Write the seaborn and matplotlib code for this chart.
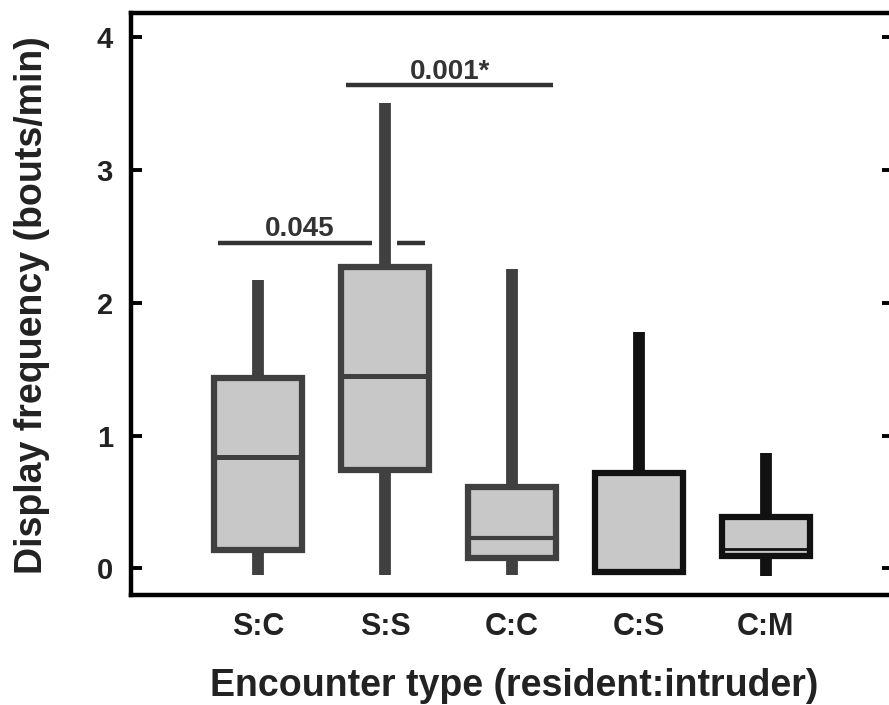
import numpy as np
import pandas as pd
import matplotlib
matplotlib.use("Agg")
import matplotlib.pyplot as plt
import seaborn as sns

# Encounter types and their five-number summaries (display bouts per minute)
categories = ["S:C", "S:S", "C:C", "C:S", "C:M"]
whisker_low = [-0.05, -0.05, -0.05, -0.05, -0.06]
quartile_1 = [0.14, 0.74, 0.08, -0.03, 0.09]
medians = [0.84, 1.45, 0.23, -0.03, 0.15]
quartile_3 = [1.43, 2.27, 0.61, 0.72, 0.39]
whisker_high = [2.17, 3.50, 2.25, 1.78, 0.87]

# Pairwise comparisons: (first group, second group, p-value label)
comparisons = [("S:C", "S:S", "0.045"), ("S:S", "C:C", "0.001*")]

# Five values per group reproduce the summary exactly (whiskers span min..max)
rows = []
for cat, lo, q1, md, q3, hi in zip(categories, whisker_low, quartile_1,
                                   medians, quartile_3, whisker_high):
    for v in (lo, q1, md, q3, hi):
        rows.append({"type": cat, "rate": v})
df = pd.DataFrame(rows)

sns.set_theme(style="white")
plt.rcParams["font.family"] = ["Liberation Sans", "DejaVu Sans"]
plt.rcParams["font.weight"] = "bold"

fig = plt.figure(figsize=(8.89, 7.05), dpi=100)
ax = fig.add_axes([0.1474, 0.156, 0.857, 0.8256])

sns.boxplot(data=df, x="type", y="rate", order=categories, whis=np.inf,
            width=0.69, color="#c8c8c8", linewidth=4, showcaps=False,
            ax=ax)

edge_colors = ["#404040", "#404040", "#404040", "#111111", "#111111"]
median_widths = [3.6, 3.6, 3, 3, 2]
cont = ax.containers[0]
for i, bx in enumerate(cont.boxes):
    bx.set_edgecolor(edge_colors[i])
    bx.set_facecolor("#c8c8c8")
    bx.set_linewidth(4.5)
    bx.set_zorder(3)
for i, md in enumerate(cont.medians):
    md.set_color(edge_colors[i])
    md.set_linewidth(median_widths[i])
    md.set_zorder(4)
for j, wk in enumerate(cont.whiskers):
    wk.set_color(edge_colors[j // 2])
    wk.set_linewidth(8.5)
    wk.set_solid_capstyle("butt")
    wk.set_zorder(2)

ax.set_xlim(-1, 5)
ax.set_ylim(-0.2, 4.18)
ax.set_yticks([0, 1, 2, 3, 4])

# Significance bars
bar_col = "#333333"
ax.plot([-0.315, 0.898], [2.45, 2.45], color=bar_col, lw=3.2,
        solid_capstyle="butt", zorder=5)
ax.plot([1.094, 1.315], [2.45, 2.45], color=bar_col, lw=3.2,
        solid_capstyle="butt", zorder=5)
ax.text(0.33, 2.50, comparisons[0][2], ha="center", va="baseline",
        fontsize=20, fontweight="bold", color="#333333")
ax.plot([0.69, 2.32], [3.64, 3.64], color=bar_col, lw=3.2,
        solid_capstyle="butt", zorder=5)
ax.text(1.51, 3.68, comparisons[1][2], ha="center", va="baseline",
        fontsize=20, fontweight="bold", color="#333333")

for side in ["left", "bottom", "top", "right"]:
    ax.spines[side].set_visible(True)
    ax.spines[side].set_color("black")
    ax.spines[side].set_linewidth(3.2)

ax.tick_params(axis="y", which="both", direction="in", length=8, width=2.8,
               color="black", left=True, right=True, pad=13,
               labelsize=21, labelcolor="#222222")
ax.tick_params(axis="x", length=0, pad=12, labelsize=22,
               labelcolor="#222222")
for lab in ax.get_xticklabels() + ax.get_yticklabels():
    lab.set_fontweight("bold")

ax.set_xlabel("Encounter type (resident:intruder)", fontsize=27,
              fontweight="bold", color="#222222")
ax.set_ylabel("Display frequency (bouts/min)", fontsize=27,
              fontweight="bold", color="#222222")
ax.xaxis.set_label_coords(0.503, -0.126)
ax.yaxis.set_label_coords(-0.106, 0.498)

fig.savefig("out.png", dpi=100)
